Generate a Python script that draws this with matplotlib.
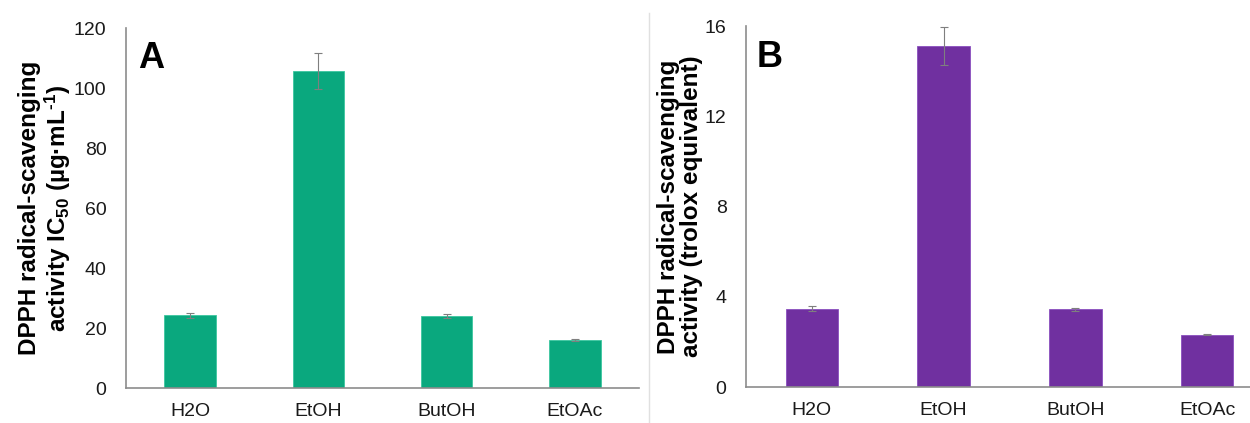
import matplotlib
matplotlib.use("Agg")
import matplotlib.pyplot as plt
from matplotlib.lines import Line2D

plt.rcParams['font.family'] = ['Liberation Sans', 'DejaVu Sans']
plt.rcParams['mathtext.fontset'] = 'custom'
plt.rcParams['mathtext.rm'] = 'Liberation Sans:bold'
plt.rcParams['mathtext.bf'] = 'Liberation Sans:bold'
plt.rcParams['mathtext.default'] = 'bf'

# data
solvents = ["H2O", "EtOH", "ButOH", "EtOAc"]
ic50 = [24.3, 105.6, 24.1, 16.0]
ic50_err = [0.8, 6.0, 0.7, 0.3]
trolox = [3.47, 15.1, 3.44, 2.32]
trolox_err = [0.1, 0.85, 0.08, 0.03]

green = "#0aa87e"
purple = "#7030a0"
axcol = "#8c8c8c"

fig = plt.figure(figsize=(12.5, 4.23), dpi=100)
axA = fig.add_axes([0.1008, 0.0827, 0.4104, 0.851])
axB = fig.add_axes([0.5968, 0.0851, 0.4216, 0.8534])


def style(ax, ticks, top):
    ax.set_xlim(-0.5, 3.5)
    ax.set_ylim(0, top)
    ax.set_yticks(ticks)
    ax.set_xticks(range(len(solvents)))
    ax.set_xticklabels(solvents)
    for s in ["top", "right"]:
        ax.spines[s].set_visible(False)
    for s in ["left", "bottom"]:
        ax.spines[s].set_color(axcol)
        ax.spines[s].set_linewidth(1.2)
    ax.tick_params(length=0, labelsize=14, colors="#1a1a1a")
    ax.tick_params(axis="y", pad=14)
    ax.tick_params(axis="x", pad=11)


x = range(len(solvents))
axA.bar(x, ic50, width=0.4, color=green, edgecolor="#3cc79f", linewidth=0.6,
        yerr=ic50_err, error_kw=dict(ecolor="#7f7f7f", elinewidth=0.8, capsize=3, capthick=0.8))
style(axA, [0, 20, 40, 60, 80, 100, 120], 120)
axA.set_ylabel("DPPH radical-scavenging\nactivity IC$_{50}$ (µg·mL$^{\\text{-1}}$)",
               fontsize=17.5, fontweight="bold", labelpad=1, linespacing=1.05)
axA.text(0.023, 0.965, "A", transform=axA.transAxes, fontsize=26, fontweight="bold",
         va="top", ha="left")

axB.bar(x, trolox, width=0.4, color=purple, edgecolor="#8a4fbf", linewidth=0.6,
        yerr=trolox_err, error_kw=dict(ecolor="#7f7f7f", elinewidth=0.8, capsize=3, capthick=0.8))
style(axB, [0, 4, 8, 12, 16], 16)
axB.set_ylabel("DPPH radical-scavenging\nactivity (trolox equivalent)",
               fontsize=17.5, fontweight="bold", labelpad=1, linespacing=1.05)
axB.text(0.021, 0.962, "B", transform=axB.transAxes, fontsize=26, fontweight="bold",
         va="top", ha="left")

# thin separator between panels
fig.add_artist(Line2D([649 / 1250, 649 / 1250], [0, 1 - 13 / 423],
                      color="#e0e0e0", linewidth=1, transform=fig.transFigure))

fig.savefig("out.png", dpi=100)
